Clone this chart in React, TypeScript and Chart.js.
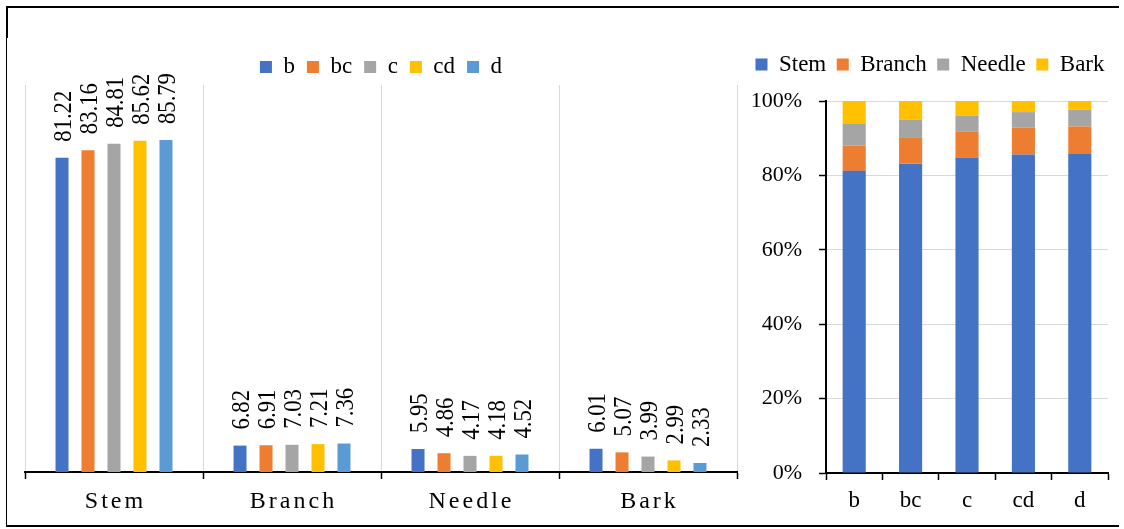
import React, { useEffect, useRef } from 'react';
import { Chart, registerables } from 'chart.js';

Chart.register(...registerables);

const FONT = "'Liberation Serif', 'Times New Roman', serif";

// Categories
const parts = ['Stem', 'Branch', 'Needle', 'Bark'];
const treatments = ['b', 'bc', 'c', 'cd', 'd'];

// Biomass allocation (%) per treatment, ordered as parts
const bValues = [81.22, 6.82, 5.95, 6.01];
const bcValues = [83.16, 6.91, 4.86, 5.07];
const cValues = [84.81, 7.03, 4.17, 3.99];
const cdValues = [85.62, 7.21, 4.18, 2.99];
const dValues = [85.79, 7.36, 4.52, 2.33];
const treatmentValues = [bValues, bcValues, cValues, cdValues, dValues];

// Tick labels for the stacked chart
const percentTicks = [0, 20, 40, 60, 80, 100];

const treatmentColors = ['#4472C4', '#ED7D31', '#A5A5A5', '#FFC000', '#5B9BD5'];
const partColors = ['#4472C4', '#ED7D31', '#A5A5A5', '#FFC000'];

// Fix legend block height and let one row span beyond the padded box
const legendHeight = (h: number) => ({
  id: 'legendHeight',
  beforeLayout(chart: any) {
    const lg = chart.legend;
    if (lg && !lg.__fixed) {
      lg.__fixed = true;
      const origFit = lg.fit;
      lg.fit = function () {
        this.maxWidth = Math.max(this.maxWidth, 600);
        origFit.call(this);
        this.height = h;
      };
      const origDraw = lg.draw;
      lg.draw = function () {
        const l = this.left;
        const r = this.right;
        this.left = l - 30;
        this.right = r + 30;
        origDraw.call(this);
        this.left = l;
        this.right = r;
      };
    }
  },
});

const dataLabels = {
  id: 'rotatedDataLabels',
  afterDatasetsDraw(chart: any) {
    const ctx = chart.ctx;
    ctx.save();
    ctx.font = `26px ${FONT}`;
    ctx.fillStyle = '#000';
    ctx.textAlign = 'left';
    ctx.textBaseline = 'middle';
    chart.data.datasets.forEach((ds: any, di: number) => {
      const meta = chart.getDatasetMeta(di);
      meta.data.forEach((el: any, i: number) => {
        const v = ds.data[i];
        ctx.save();
        ctx.translate(el.x + 2, el.y - 16);
        ctx.rotate(-Math.PI / 2);
        ctx.scale(0.87, 1);
        ctx.fillText(Number(v).toFixed(2), 0, 0);
        ctx.restore();
      });
    });
    ctx.restore();
  },
};

const spacedXLabels = {
  id: 'spacedXLabels',
  afterDraw(chart: any) {
    const ctx = chart.ctx;
    const xs = chart.scales.x;
    const y = chart.chartArea.bottom + 30;
    const spacing = 3;
    ctx.save();
    ctx.font = `24px ${FONT}`;
    ctx.fillStyle = '#000';
    ctx.textAlign = 'center';
    ctx.textBaseline = 'middle';
    (ctx as any).letterSpacing = `${spacing}px`;
    chart.data.labels.forEach((p: string, i: number) => {
      ctx.fillText(p, xs.getPixelForValue(i) + spacing / 2, y);
    });
    ctx.restore();
  },
};

export default function App() {
  const leftRef = useRef<HTMLCanvasElement>(null);
  const rightRef = useRef<HTMLCanvasElement>(null);

  useEffect(() => {
    const left = new Chart(leftRef.current as HTMLCanvasElement, {
      type: 'bar',
      data: {
        labels: parts,
        datasets: treatments.map((t, i) => ({
          label: t,
          data: treatmentValues[i],
          backgroundColor: treatmentColors[i],
          categoryPercentage: 0.73,
          barPercentage: 0.5,
        })),
      },
      options: {
        responsive: false,
        animation: false,
        layout: { padding: { left: 25, right: 3, top: 43.5, bottom: 0 } },
        plugins: {
          legend: {
            labels: {
              boxWidth: 12,
              boxHeight: 12,
              padding: 12,
              color: '#000',
              font: { family: FONT, size: 23 },
            },
          },
          tooltip: { enabled: false },
        },
        scales: {
          x: {
            grid: { color: '#d9d9d9', tickColor: '#000', tickLength: 7, tickWidth: 1.5, offset: true },
            border: { color: '#000', width: 2 },
            ticks: { display: false },
            afterFit: (s: any) => {
              s.height = 57;
            },
          },
          y: { display: false, min: 0, max: 100 },
        },
      } as any,
      plugins: [legendHeight(41.5), dataLabels, spacedXLabels],
    });

    const right = new Chart(rightRef.current as HTMLCanvasElement, {
      type: 'bar',
      data: {
        labels: treatments,
        datasets: parts.map((p, j) => ({
          label: p,
          data: treatmentValues.map((vals) => vals[j]),
          backgroundColor: partColors[j],
          categoryPercentage: 0.82,
          barPercentage: 0.5,
        })),
      },
      options: {
        responsive: false,
        animation: false,
        layout: { padding: { left: 15, right: 11, top: 42.5, bottom: 0 } },
        plugins: {
          legend: {
            labels: {
              boxWidth: 12,
              boxHeight: 12,
              padding: 10.5,
              color: '#000',
              font: { family: FONT, size: 23 },
            },
          },
          tooltip: { enabled: false },
        },
        scales: {
          x: {
            stacked: true,
            grid: { drawOnChartArea: false, tickColor: '#000', tickLength: 7, tickWidth: 1.5, offset: true },
            border: { color: '#000', width: 2 },
            ticks: { color: '#000', font: { family: FONT, size: 23 }, padding: 7 },
            afterFit: (s: any) => {
              s.height = 56;
            },
          },
          y: {
            stacked: true,
            min: 0,
            max: 100,
            grid: { color: '#d9d9d9', tickColor: '#000', tickLength: 7, tickWidth: 1.5 },
            border: { color: '#000', width: 2 },
            ticks: {
              color: '#000',
              font: { family: FONT, size: 22 },
              padding: 17,
              callback: (v: any) => `${v}%`,
            },
            afterBuildTicks: (s: any) => {
              s.ticks = percentTicks.map((v) => ({ value: v }));
            },
            afterFit: (s: any) => {
              s.width = 74;
            },
          },
        },
      } as any,
      plugins: [legendHeight(58.5)],
    });

    return () => {
      left.destroy();
      right.destroy();
    };
  }, []);

  return (
    <div
      style={{
        position: 'fixed',
        left: 0,
        top: 0,
        width: 1124,
        height: 529,
        background: '#fff',
        overflow: 'hidden',
      }}
    >
      <canvas
        ref={leftRef}
        width={740}
        height={529}
        style={{ position: 'absolute', left: 0, top: 0, width: 740, height: 529 }}
      />
      <canvas
        ref={rightRef}
        width={382}
        height={529}
        style={{ position: 'absolute', left: 737, top: 0, width: 382, height: 529 }}
      />
      <div style={{ position: 'absolute', left: 6, top: 6, width: 1113, height: 2, background: '#000' }} />
      <div style={{ position: 'absolute', left: 6, top: 525, width: 1113, height: 2, background: '#000' }} />
      <div style={{ position: 'absolute', left: 6, top: 6, width: 2, height: 32, background: '#000' }} />
      <div style={{ position: 'absolute', left: 6, top: 6, width: 1, height: 521, background: '#000' }} />
    </div>
  );
}
